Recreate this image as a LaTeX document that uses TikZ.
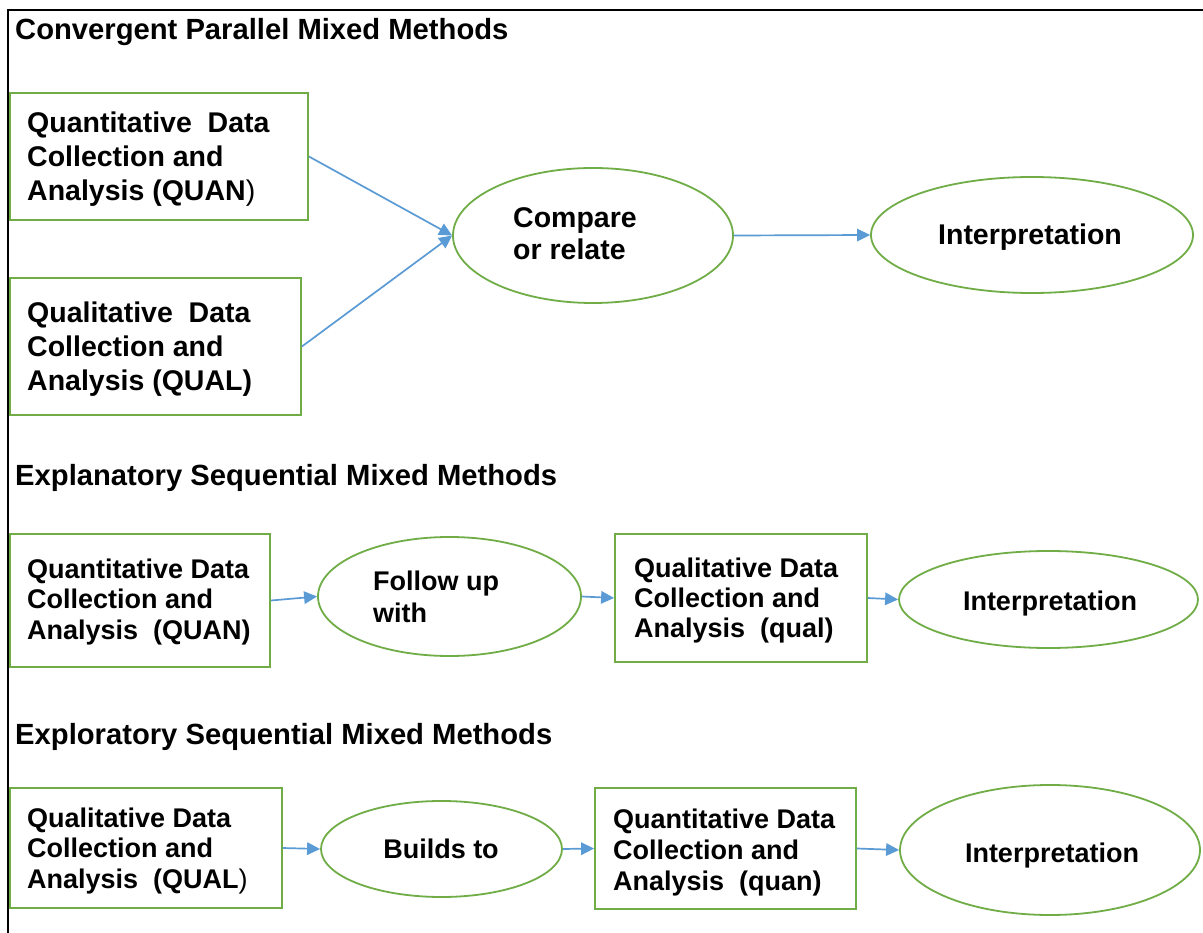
\documentclass[tikz,border=0pt]{standalone}
\usepackage{fontspec}
\setmainfont{Liberation Sans}
\usetikzlibrary{shapes.geometric,arrows.meta}
\definecolor{offgreen}{HTML}{70AD47}
\definecolor{offblue}{HTML}{5B9BD5}
\tikzset{
  boxshape/.style={draw=offgreen, line width=1.8pt, rectangle, inner sep=0pt},
  ovalshape/.style={draw=offgreen, line width=1.8pt, ellipse, inner sep=0pt},
  arr/.style={draw=offblue, line width=1.7pt, -{Triangle[length=13pt,width=12.5pt]}},
  bigtxt/.style={inner sep=0pt, align=left, anchor=north west, font=\bfseries\fontsize{28.5}{34}\selectfont},
  smalltxt/.style={inner sep=0pt, align=left, anchor=north west, font=\bfseries\fontsize{27}{30.5}\selectfont},
  titletxt/.style={inner sep=0pt, anchor=base west, font=\bfseries\fontsize{29.2}{34}\selectfont},
  ovaltxt/.style={inner sep=0pt, anchor=base, font=\bfseries\fontsize{27}{32}\selectfont}
}
\begin{document}
\begin{tikzpicture}[x=1pt,y=-1pt]
\useasboundingbox (0,0) rectangle (1203,933);
\fill[white] (0,0) rectangle (1203,933);
% outer frame (visible top and left edges)
\draw[line width=2.3pt, line cap=rect] (8,933) -- (8,10) -- (1203,10);

% ---------- Convergent Parallel ----------
\node[titletxt] (title1) at (15,40) {Convergent Parallel Mixed Methods};
\node[boxshape, minimum width=298pt, minimum height=127pt] (A) at (159,156.5) {};
\node[boxshape, minimum width=291pt, minimum height=137pt] (B) at (155.5,346.5) {};
\node[ovalshape, minimum width=280pt, minimum height=135pt] (C) at (593,235.5) {};
\node[ovalshape, minimum width=322pt, minimum height=116pt] (I1) at (1032,235) {};
\node[bigtxt] (tA) at (27,111.2) {Quantitative\ \ Data\\Collection and\\Analysis (QUAN{\mdseries )}};
\node[bigtxt] (tB) at (27,301.2) {Qualitative\ \ Data\\Collection and\\Analysis (QUAL)};
\node[bigtxt, font=\bfseries\fontsize{28.5}{32}\selectfont] (tC) at (513,207.2) {Compare\\or relate};
\node[ovaltxt, font=\bfseries\fontsize{28.5}{32}\selectfont] (tI1) at (1030,245) {Interpretation};
\draw[arr] (A.east) -- (C.west);
\draw[arr] (B.east) -- (C.west);
\draw[arr] (C.east) -- (I1.west);

% ---------- Explanatory Sequential ----------
\node[titletxt] (title2) at (15,485) {Explanatory Sequential Mixed Methods};
\node[boxshape, minimum width=260pt, minimum height=133pt] (D) at (140,600.5) {};
\node[ovalshape, minimum width=263pt, minimum height=119pt] (E) at (449.5,596.5) {};
\node[boxshape, minimum width=252pt, minimum height=128pt] (F) at (741,598) {};
\node[ovalshape, minimum width=299pt, minimum height=97pt] (I2) at (1048.5,599.5) {};
\node[smalltxt] (tD) at (27,558.3) {Quantitative Data\\Collection and\\Analysis\ \ (QUAN)};
\node[smalltxt, font=\bfseries\fontsize{27}{32}\selectfont] (tE) at (373,570.3) {Follow up\\with};
\node[smalltxt, font=\bfseries\fontsize{27}{30}\selectfont] (tF) at (634,557.3) {Qualitative Data\\Collection and\\Analysis\ \ (qual)};
\node[ovaltxt] (tI2) at (1050,610) {Interpretation};
\draw[arr] (D.east) -- (E.west);
\draw[arr] (E.east) -- (F.west);
\draw[arr] (F.east) -- (I2.west);

% ---------- Exploratory Sequential ----------
\node[titletxt] (title3) at (15,744) {Exploratory Sequential Mixed Methods};
\node[boxshape, minimum width=272pt, minimum height=120pt] (G) at (146,848) {};
\node[ovalshape, minimum width=241pt, minimum height=96pt] (H) at (441.5,849) {};
\node[boxshape, minimum width=261pt, minimum height=121pt] (J) at (725.5,848.5) {};
\node[ovalshape, minimum width=300pt, minimum height=130pt] (K) at (1050,850) {};
\node[smalltxt] (tG) at (27,807.3) {Qualitative Data\\Collection and\\Analysis\ \ (QUAL{\mdseries )}};
\node[ovaltxt] (tH) at (441,858) {Builds to};
\node[smalltxt, font=\bfseries\fontsize{27}{31}\selectfont] (tJ) at (613,808.3) {Quantitative Data\\Collection and\\Analysis\ \ (quan)};
\node[ovaltxt] (tK) at (1052,862) {Interpretation};
\draw[arr] (G.east) -- (H.west);
\draw[arr] (H.east) -- (J.west);
\draw[arr] (J.east) -- (K.west);
\end{tikzpicture}
\end{document}
